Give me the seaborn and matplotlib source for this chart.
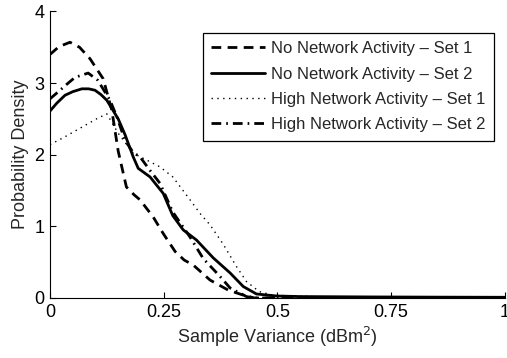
import matplotlib
matplotlib.use("Agg")
import matplotlib.pyplot as plt
import seaborn as sns
import pandas as pd

# Data
x_no1 = [0.0, 0.02, 0.044, 0.065, 0.088, 0.117, 0.136, 0.15, 0.168, 0.185, 0.198, 0.227, 0.249, 0.275, 0.295, 0.315, 0.352, 0.392, 0.425, 0.45, 0.5, 0.75, 1.0]
y_no1 = [3.40, 3.51, 3.57, 3.50, 3.34, 3.06, 2.62, 2.05, 1.55, 1.44, 1.37, 1.13, 0.90, 0.65, 0.53, 0.46, 0.25, 0.11, 0.04, 0.0, 0.0, 0.0, 0.0]

x_no2 = [0.0, 0.015, 0.033, 0.05, 0.07, 0.085, 0.099, 0.112, 0.125, 0.15, 0.165, 0.183, 0.194, 0.22, 0.249, 0.27, 0.293, 0.322, 0.359, 0.396, 0.425, 0.454, 0.498, 0.55, 0.7, 0.85, 1.0]
y_no2 = [2.61, 2.72, 2.83, 2.88, 2.92, 2.92, 2.90, 2.84, 2.76, 2.50, 2.28, 1.97, 1.81, 1.69, 1.46, 1.15, 0.95, 0.81, 0.56, 0.35, 0.16, 0.056, 0.028, 0.02, 0.015, 0.012, 0.01]

x_hi1 = [0.0, 0.03, 0.055, 0.08, 0.105, 0.125, 0.15, 0.183, 0.205, 0.242, 0.27, 0.308, 0.33, 0.352, 0.38, 0.41, 0.432, 0.46, 0.49, 0.55, 0.62, 0.75, 1.0]
y_hi1 = [2.14, 2.24, 2.33, 2.42, 2.51, 2.57, 2.30, 2.02, 1.95, 1.83, 1.69, 1.37, 1.18, 1.02, 0.76, 0.44, 0.23, 0.09, 0.04, 0.025, 0.01, 0.0, 0.0]

x_hi2 = [0.0, 0.022, 0.04, 0.055, 0.084, 0.105, 0.132, 0.147, 0.165, 0.183, 0.198, 0.22, 0.242, 0.27, 0.308, 0.337, 0.374, 0.396, 0.432, 0.45, 0.5, 0.75, 1.0]
y_hi2 = [2.78, 2.90, 3.00, 3.08, 3.14, 3.04, 2.76, 2.53, 2.20, 2.03, 1.97, 1.78, 1.60, 1.20, 0.85, 0.55, 0.30, 0.14, 0.02, 0.0, 0.0, 0.0, 0.0]

labels = ["No Network Activity \u2013 Set 1", "No Network Activity \u2013 Set 2",
          "High Network Activity \u2013 Set 1", "High Network Activity \u2013 Set 2"]
x_ticks = [0, 0.25, 0.5, 0.75, 1]
x_tick_labels = ["0", "0.25", "0.5", "0.75", "1"]
y_ticks = [0, 1, 2, 3, 4]

sns.set_style("ticks", {"xtick.direction": "in", "ytick.direction": "in"})
plt.rcParams["font.family"] = ["Liberation Sans", "DejaVu Sans"]
plt.rcParams["font.size"] = 12

fig = plt.figure(figsize=(5.07, 3.58), dpi=100)
ax = fig.add_axes([0.0986, 0.1676, 0.897, 0.8004])

series = [(x_no1, y_no1), (x_no2, y_no2), (x_hi1, y_hi1), (x_hi2, y_hi2)]
styles = [
    dict(lw=2.0, dashes=(3.5, 2.3)),
    dict(lw=2.0, dashes=None),
    dict(lw=1.0, dashes=(1, 3.2)),
    dict(lw=2.0, dashes=(3.5, 1.8, 0.6, 1.8)),
]
for (xs, ys), lab, st in zip(series, labels, styles):
    df = pd.DataFrame({"x": xs, "y": ys})
    sns.lineplot(data=df, x="x", y="y", ax=ax, color="black", lw=st["lw"],
                 label=lab, estimator=None, sort=False)
    line = ax.lines[-1]
    if st["dashes"] is not None:
        line.set_dashes(st["dashes"])

ax.set_xlim(0, 1)
ax.set_ylim(0, 4)
ax.set_xticks(x_ticks)
ax.set_xticklabels(x_tick_labels)
ax.set_yticks(y_ticks)
ax.tick_params(direction="in", length=4, width=0.8, labelsize=13, colors="black", pad=4)
ax.set_xlabel("Sample Variance (dBm$^2$)", fontsize=13, labelpad=3)
ax.set_ylabel("Probability Density", fontsize=13, labelpad=4)
sns.despine(ax=ax)
for s in ["left", "bottom"]:
    ax.spines[s].set_color("black")
    ax.spines[s].set_linewidth(0.8)

leg = ax.legend(loc="upper right", bbox_to_anchor=(0.977, 0.925), frameon=True,
                fancybox=False, edgecolor="black", framealpha=1,
                handlelength=3.2, fontsize=12, borderpad=0.5, labelspacing=0.62,
                handletextpad=0.4, borderaxespad=0)
leg.get_frame().set_linewidth(0.9)

fig.savefig("out.png", dpi=100)
